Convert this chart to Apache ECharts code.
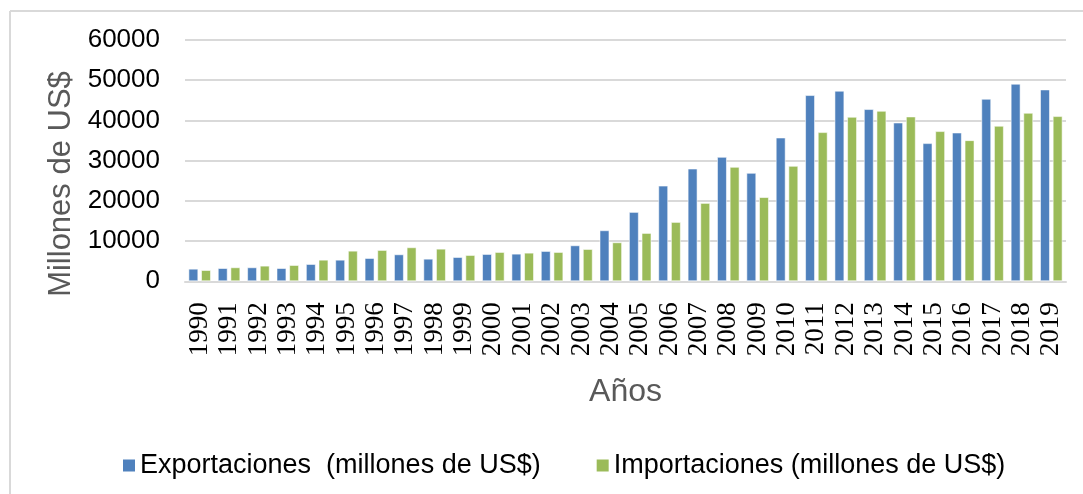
<!DOCTYPE html>
<html>
<head>
<meta charset="utf-8">
<script src="https://cdn.jsdelivr.net/npm/echarts@6/dist/echarts.min.js"></script>
<style>html,body{margin:0;padding:0;background:#fff;}#c{width:1083px;height:494px;}</style>
</head>
<body>
<div id="c"></div>
<script>
const years = ['1990','1991','1992','1993','1994','1995','1996','1997','1998','1999','2000','2001','2002','2003','2004','2005','2006','2007','2008','2009','2010','2011','2012','2013','2014','2015','2016','2017','2018','2019'];
const exportaciones = [3140,3300,3490,3300,4310,5380,5800,6720,5630,6050,6800,6880,7550,8960,12700,17260,23800,28040,30950,26970,35760,46310,47390,42830,39490,34360,37000,45390,49130,47710];
const importaciones = [2810,3490,3900,4060,5380,7620,7800,8470,8120,6550,7300,7130,7300,8040,9710,12030,14770,19500,28460,20950,28710,37100,40910,42400,40990,37350,35100,38680,41910,41080];
const yTicks = [0,10000,20000,30000,40000,50000,60000];
const seriesNames = ['Exportaciones  (millones de US$)','Importaciones (millones de US$)'];

const chart = echarts.init(document.getElementById('c'), null, {renderer:'canvas'});
chart.setOption({
  backgroundColor:'#fff',
  animation:false,
  graphic:[
    {type:'line', shape:{x1:10,y1:11,x2:1083,y2:11}, style:{stroke:'#d9d9d9',lineWidth:2}},
    {type:'line', shape:{x1:10,y1:11,x2:10,y2:494}, style:{stroke:'#d9d9d9',lineWidth:2}},
    {type:'text', x:61, y:184, rotation:Math.PI/2, style:{text:'Millones de US$', fill:'#595959', font:'31px "Liberation Sans", Arial, sans-serif', textAlign:'center', textVerticalAlign:'middle'}}
  ],
  grid:{left:185,right:17,top:40,bottom:212.7},
  legend:{
    data:seriesNames, left:118, top:447, icon:'rect', itemWidth:12, itemHeight:12, itemGap:56, itemStyle:{borderWidth:0},
    textStyle:{fontFamily:'"Liberation Sans", Arial, sans-serif', fontSize:27, color:'#000'}
  },
  xAxis:{
    type:'category', data:years,
    name:'Años', nameLocation:'middle', nameGap:95,
    nameTextStyle:{fontFamily:'"Liberation Sans", Arial, sans-serif', fontSize:32, color:'#595959'},
    axisLine:{lineStyle:{color:'#d9d9d9',width:2}},
    axisTick:{show:false},
    axisLabel:{rotate:90, margin:21, interval:0, fontFamily:'"Liberation Serif", "Times New Roman", serif', fontSize:27, color:'#000'}
  },
  yAxis:{
    type:'value', min:0, max:60000, interval:10000,
    axisLine:{show:false}, axisTick:{show:false},
    splitLine:{lineStyle:{color:'#d9d9d9',width:2}},
    axisLabel:{margin:25, fontFamily:'"Liberation Sans", Arial, sans-serif', fontSize:26, color:'#000',
      customValues:yTicks, formatter:function(v){return String(v);}}
  },
  series:[
    {name:seriesNames[0], type:'bar', data:exportaciones, barGap:'27%', barCategoryGap:'23%',
     itemStyle:{color:'#4F81BD', borderColor:'rgba(255,255,255,0.55)', borderWidth:1}},
    {name:seriesNames[1], type:'bar', data:importaciones,
     itemStyle:{color:'#9BBB59', borderColor:'rgba(255,255,255,0.55)', borderWidth:1}}
  ]
});
</script>
</body>
</html>
